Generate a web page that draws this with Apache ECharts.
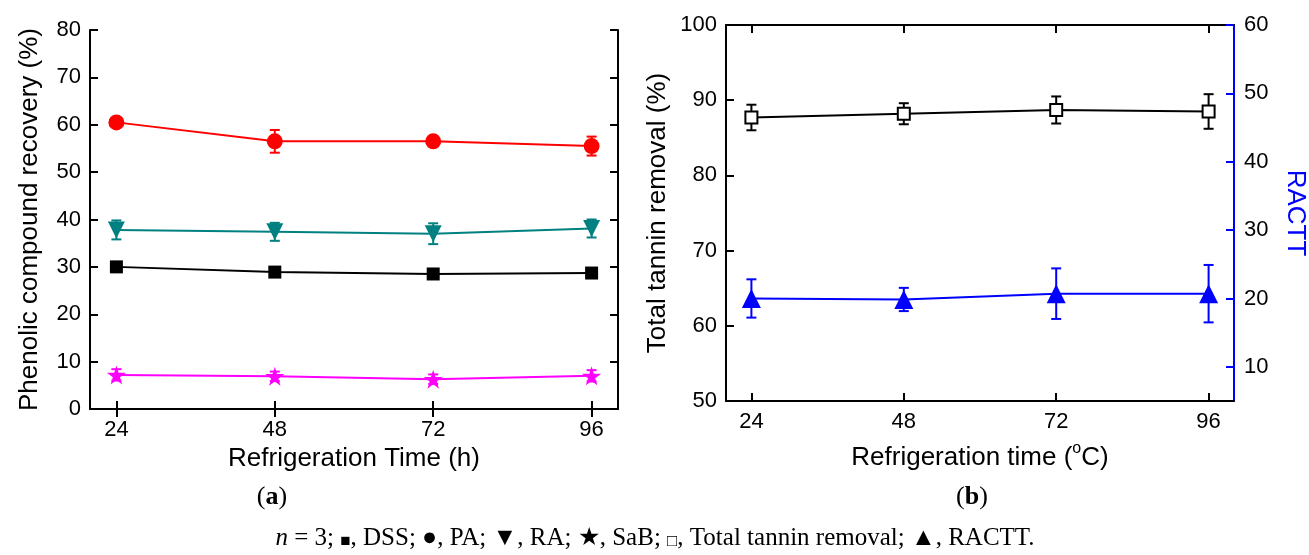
<!DOCTYPE html>
<html>
<head>
<meta charset="utf-8">
<script src="https://cdn.jsdelivr.net/npm/echarts@6/dist/echarts.min.js"></script>
<style>
  html, body { margin: 0; padding: 0; background: #fff; }
  #chart { width: 1309px; height: 555px; }
</style>
</head>
<body>
<div id="chart"></div>
<script>
// refrigeration time (h)
var timeH = [24, 48, 72, 96];
var xTicks = [24, 48, 72, 96];

// panel (a) phenolic compound recovery (%)
var dss = [30.0, 28.9, 28.5, 28.7];
var dssErr = [0.6, 0.6, 0.6, 0.6];
var pa = [60.5, 56.5, 56.5, 55.5];
var paErr = [0.8, 2.4, 1.0, 2.0];
var ra = [37.8, 37.4, 37.0, 38.1];
var raErr = [2.0, 1.9, 2.2, 1.9];
var sab = [7.2, 6.9, 6.3, 7.0];
var sabErr = [1.2, 1.0, 1.0, 1.2];

// panel (b)
var tannin = [87.7, 88.2, 88.7, 88.5];
var tanninErr = [1.7, 1.4, 1.8, 2.3];
var ractt = [20.0, 19.85, 20.7, 20.7];
var racttErr = [2.8, 1.7, 3.7, 4.2];
var racttTicks = [10, 20, 30, 40, 50, 60];

var FONT = 'Liberation Sans';
var SERIF = 'Liberation Serif';

var chart = echarts.init(document.getElementById('chart'));

function pairs(x, y) {
  return x.map(function (v, i) { return [v, y[i]]; });
}

function errBars(name, x, y, err, color, xi, yi) {
  return {
    name: name + ' err',
    type: 'custom',
    xAxisIndex: xi,
    yAxisIndex: yi,
    z: 2,
    silent: true,
    data: x.map(function (v, i) { return [v, y[i] - err[i], y[i] + err[i]]; }),
    encode: { x: 0, y: [1, 2] },
    renderItem: function (params, api) {
      var lo = api.coord([api.value(0), api.value(1)]);
      var hi = api.coord([api.value(0), api.value(2)]);
      var w = 5;
      var st = { stroke: color, lineWidth: 2 };
      return {
        type: 'group',
        children: [
          { type: 'line', shape: { x1: lo[0], y1: lo[1], x2: hi[0], y2: hi[1] }, style: st },
          { type: 'line', shape: { x1: hi[0] - w, y1: hi[1], x2: hi[0] + w, y2: hi[1] }, style: st },
          { type: 'line', shape: { x1: lo[0] - w, y1: lo[1], x2: lo[0] + w, y2: lo[1] }, style: st }
        ]
      };
    }
  };
}

function line(name, x, y, color, xi, yi, symbol, size, extra) {
  var s = {
    name: name,
    type: 'line',
    xAxisIndex: xi,
    yAxisIndex: yi,
    z: 3,
    data: pairs(x, y),
    symbol: symbol,
    symbolSize: size,
    lineStyle: { color: color, width: 2 },
    itemStyle: { color: color }
  };
  if (extra) Object.keys(extra).forEach(function (k) { s[k] = extra[k]; });
  return s;
}

var star = 'path://M50,0 L61,35 L98,35 L68,57 L79,91 L50,70 L21,91 L32,57 L2,35 L39,35 Z';

function xAx(gi, pos, name, gap, nameText) {
  return {
    type: 'value', gridIndex: gi, position: pos,
    min: 20, max: 100,
    name: name, nameLocation: 'middle', nameGap: gap,
    nameTextStyle: nameText || { fontFamily: FONT, fontSize: 26, color: '#000' },
    axisLine: { lineStyle: { color: '#000', width: 2 } },
    axisTick: { inside: true, length: 8, customValues: xTicks, lineStyle: { color: '#000', width: 2 } },
    axisLabel: { show: pos === 'bottom', customValues: xTicks, margin: 10, fontFamily: FONT, fontSize: 22, color: '#000' },
    splitLine: { show: false }
  };
}

function yAx(gi, pos, min, max, labels, name, gap) {
  return {
    type: 'value', gridIndex: gi, position: pos,
    min: min, max: max, interval: 10,
    name: name, nameLocation: 'middle', nameGap: gap,
    nameTextStyle: { fontFamily: FONT, fontSize: 26, color: '#000' },
    axisLine: { lineStyle: { color: '#000', width: 2 } },
    axisTick: { inside: true, length: 8, lineStyle: { color: '#000', width: 2 } },
    axisLabel: { show: labels, margin: 9, fontFamily: FONT, fontSize: 22, color: '#000' },
    splitLine: { show: false }
  };
}

var option = {
  backgroundColor: '#fff',
  animation: false,
  grid: [
    { left: 90, top: 30, width: 528, height: 379 },
    { left: 726, top: 25, width: 508, height: 376 }
  ],
  xAxis: [
    xAx(0, 'bottom', 'Refrigeration Time (h)', 37),
    xAx(0, 'top', ''),
    xAx(1, 'bottom', 'Refrigeration time ({s|o}C)', 40, {
      fontFamily: FONT, fontSize: 26, color: '#000', lineHeight: 34,
      rich: { s: { fontFamily: FONT, fontSize: 16, color: '#000', verticalAlign: 'top', lineHeight: 20 } }
    }),
    xAx(1, 'top', '')
  ],
  yAxis: [
    yAx(0, 'left', 0, 80, true, 'Phenolic compound recovery (%)', 47),
    yAx(0, 'right', 0, 80, false, ''),
    yAx(1, 'left', 50, 100, true, 'Total tannin removal (%)', 55),
    {
      type: 'value', gridIndex: 1, position: 'right',
      min: 5, max: 60,
      name: 'RACTT', nameLocation: 'middle', nameGap: 48, nameRotate: -90,
      nameTextStyle: { fontFamily: FONT, fontSize: 26, color: '#0000ff' },
      axisLine: { lineStyle: { color: '#0000ff', width: 2 } },
      axisTick: { inside: true, length: 8, customValues: racttTicks, lineStyle: { color: '#0000ff', width: 2 } },
      axisLabel: { customValues: racttTicks, margin: 10, fontFamily: FONT, fontSize: 22, color: '#000' },
      splitLine: { show: false }
    }
  ],
  graphic: [
    {
      type: 'text', x: 272, y: 497,
      style: {
        text: '({b|a})', fill: '#000', fontFamily: SERIF, fontSize: 26,
        align: 'center', verticalAlign: 'middle',
        rich: { b: { fontFamily: SERIF, fontSize: 26, fontWeight: 'bold', fill: '#000' } }
      }
    },
    {
      type: 'text', x: 972, y: 497,
      style: {
        text: '({b|b})', fill: '#000', fontFamily: SERIF, fontSize: 26,
        align: 'center', verticalAlign: 'middle',
        rich: { b: { fontFamily: SERIF, fontSize: 26, fontWeight: 'bold', fill: '#000' } }
      }
    },
    {
      type: 'text', x: 655, y: 538,
      style: {
        text: '{i|n} = 3; {m|\u25A0}, DSS; \u25CF, PA; \u25BC, RA; \u2605, SaB; {m|\u25A1}, Total tannin removal; \u25B2, RACTT.',
        fill: '#000', fontFamily: SERIF, fontSize: 25,
        align: 'center', verticalAlign: 'middle',
        rich: {
          i: { fontFamily: SERIF, fontSize: 25, fontStyle: 'italic', fill: '#000' },
          m: { fontFamily: SERIF, fontSize: 17, fill: '#000', verticalAlign: 'bottom', lineHeight: 24 }
        }
      }
    }
  ],
  series: [
    errBars('PA', timeH, pa, paErr, '#ff0000', 0, 0),
    errBars('RA', timeH, ra, raErr, '#008080', 0, 0),
    errBars('DSS', timeH, dss, dssErr, '#000000', 0, 0),
    errBars('SaB', timeH, sab, sabErr, '#ff00ff', 0, 0),
    line('PA', timeH, pa, '#ff0000', 0, 0, 'circle', 16),
    line('RA', timeH, ra, '#008080', 0, 0, 'triangle', 17, { symbolRotate: 180 }),
    line('DSS', timeH, dss, '#000000', 0, 0, 'rect', 13),
    line('SaB', timeH, sab, '#ff00ff', 0, 0, star, 19),
    errBars('Total tannin removal', timeH, tannin, tanninErr, '#000000', 2, 2),
    errBars('RACTT', timeH, ractt, racttErr, '#0000ff', 2, 3),
    line('Total tannin removal', timeH, tannin, '#000000', 2, 2, 'rect', 12, {
      itemStyle: { color: '#ffffff', borderColor: '#000000', borderWidth: 2 }
    }),
    line('RACTT', timeH, ractt, '#0000ff', 2, 3, 'triangle', 19)
  ]
};

chart.setOption(option);
</script>
</body>
</html>
